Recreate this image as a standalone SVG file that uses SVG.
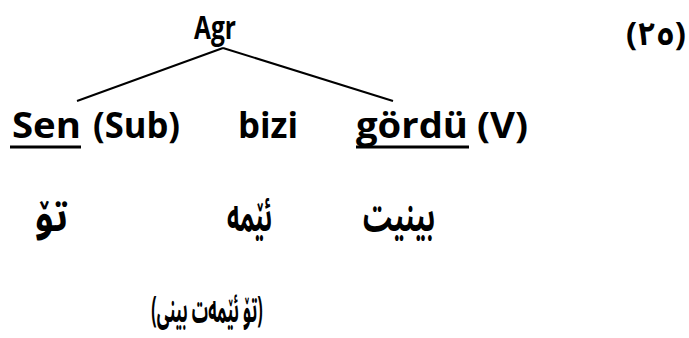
<svg xmlns="http://www.w3.org/2000/svg" width="689" height="338" viewBox="0 0 689 338">
<style>
.lat{font-family:"Open Sans","Noto Sans","Liberation Sans",sans-serif;font-weight:bold;fill:#000;}
.ar{font-family:"Noto Sans Arabic","DejaVu Sans",sans-serif;font-weight:bold;fill:#000;}
.edge{stroke:#000;stroke-width:2;fill:none;}
.ul{fill:#000;}
</style>
<rect width="689" height="338" fill="#fff"/>
<g id="connectors">
<line class="edge" x1="223" y1="48" x2="77" y2="101"/>
<line class="edge" x1="223" y1="48" x2="393" y2="101"/>
</g>
<g id="node-agr"><text class="lat" x="194" y="39" font-size="33" textLength="42" lengthAdjust="spacingAndGlyphs">Agr</text></g>
<g id="node-num"><text class="ar" x="626" y="45" font-size="32" textLength="60" lengthAdjust="spacingAndGlyphs">(٢٥)</text></g>
<g id="node-sen">
<text class="lat" x="12" y="138" font-size="36" textLength="69" lengthAdjust="spacingAndGlyphs">Sen</text>
<rect class="ul" x="10" y="145.5" width="71" height="3"/>
<text class="lat" x="93" y="138" font-size="36" textLength="87" lengthAdjust="spacingAndGlyphs">(Sub)</text>
</g>
<g id="node-bizi"><text class="lat" x="238" y="138" font-size="36" textLength="60" lengthAdjust="spacingAndGlyphs">bizi</text></g>
<g id="node-gordu">
<text class="lat" x="356" y="138" font-size="36" textLength="112" lengthAdjust="spacingAndGlyphs">gördü</text>
<rect class="ul" x="356" y="145.5" width="113" height="3"/>
<text class="lat" x="477" y="138" font-size="36" textLength="51" lengthAdjust="spacingAndGlyphs">(V)</text>
</g>
<g id="node-to"><text class="ar" x="35" y="231" font-size="42" direction="rtl" text-anchor="end" textLength="33" lengthAdjust="spacingAndGlyphs">تۆ</text></g>
<g id="node-ema"><text class="ar" x="227" y="231" font-size="42" direction="rtl" text-anchor="end" textLength="45" lengthAdjust="spacingAndGlyphs">ئێمە</text></g>
<g id="node-binit"><text class="ar" x="363" y="231" font-size="42" direction="rtl" text-anchor="end" textLength="72" lengthAdjust="spacingAndGlyphs">بینیت</text></g>
<g id="node-gloss" transform="translate(207,322) scale(0.46,1)"><text class="ar" x="0" y="0" font-size="35" direction="rtl" text-anchor="middle">(تۆ ئێمەت بینی)</text></g>
</svg>
